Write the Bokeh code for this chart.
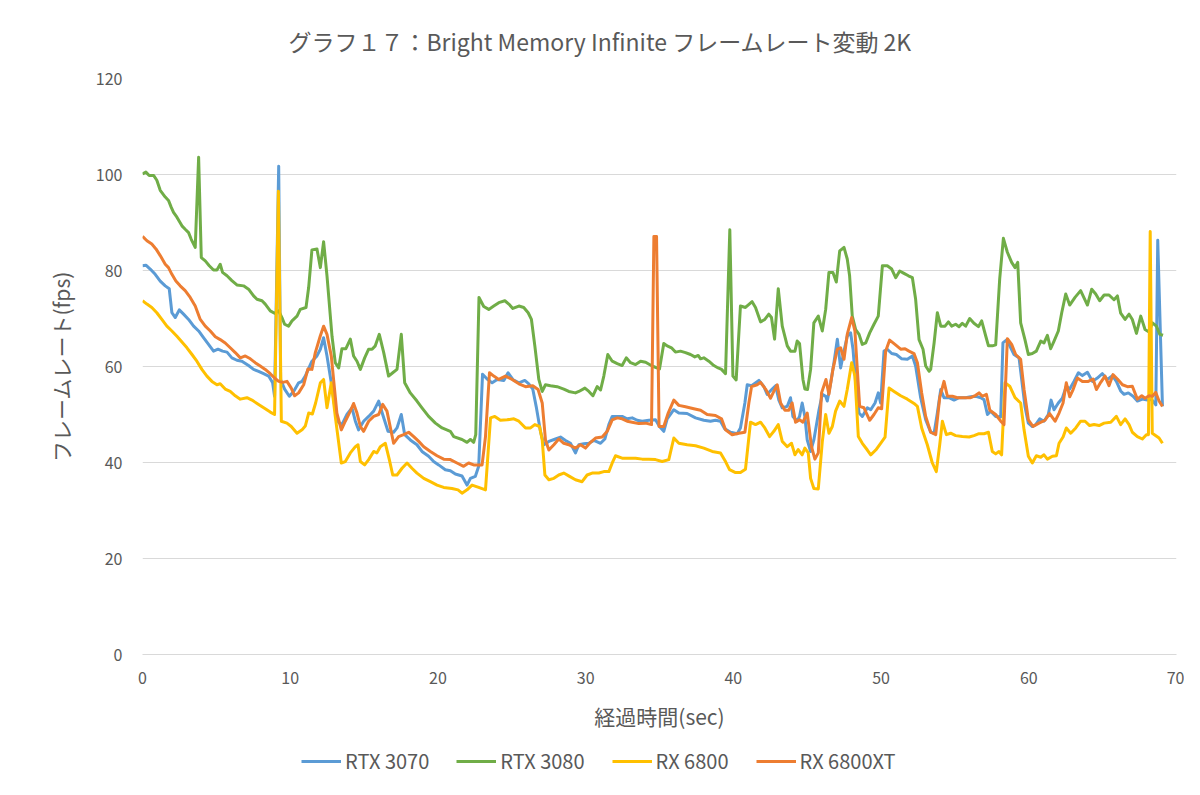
from bokeh.plotting import figure
from bokeh.layouts import column
from bokeh.models import Range1d, FixedTicker, Legend, LegendItem
from bokeh.embed import file_html
from bokeh.resources import INLINE

title_text = "グラフ１７：Bright Memory Infinite フレームレート変動 2K"
x_label = "経過時間(sec)"
y_label = "フレームレート(fps)"
x_ticks = [0, 10, 20, 30, 40, 50, 60, 70]
y_ticks = [0, 20, 40, 60, 80, 100, 120]

series_names = ["RTX 3070", "RTX 3080", "RX 6800", "RX 6800XT"]
series_colors = ["#5B9BD5", "#70AD47", "#FFC000", "#ED7D31"]

rtx3070_t = [0.0, 0.23, 0.52, 0.86, 1.2, 1.54, 1.81, 1.99, 2.22, 2.49, 2.78, 3.12, 3.46, 3.8, 4.13, 4.47, 4.81, 5.11, 5.42, 5.72, 6.05, 6.39, 6.73, 7.18, 7.52, 7.86, 8.2, 8.54, 8.81, 8.94, 9.22, 9.35, 9.62, 9.94, 10.23, 10.57, 10.8, 11.02, 11.47, 11.81, 12.04, 12.26, 12.49, 12.78, 13.16, 13.5, 13.84, 14.18, 14.41, 14.63, 14.97, 15.31, 15.65, 15.99, 16.26, 16.62, 17.0, 17.23, 17.52, 17.75, 18.13, 18.58, 18.92, 19.37, 19.71, 20.05, 20.5, 20.84, 21.18, 21.63, 21.97, 22.2, 22.53, 22.76, 23.02, 23.33, 23.67, 24.01, 24.46, 24.75, 25.07, 25.48, 25.88, 26.15, 26.42, 26.65, 26.94, 27.17, 27.51, 27.96, 28.3, 28.64, 28.97, 29.31, 29.54, 29.88, 30.22, 30.56, 31.01, 31.3, 31.57, 31.8, 32.14, 32.47, 32.81, 33.15, 33.49, 33.83, 34.28, 34.73, 35.0, 35.29, 35.52, 35.97, 36.31, 36.87, 37.44, 38.0, 38.45, 38.79, 39.13, 39.42, 39.81, 40.26, 40.48, 40.78, 40.94, 41.23, 41.73, 42.07, 42.29, 42.63, 42.86, 43.08, 43.31, 43.65, 43.87, 44.03, 44.32, 44.48, 44.66, 44.84, 45.0, 45.23, 45.45, 45.8, 46.02, 46.25, 46.36, 46.59, 46.81, 47.04, 47.26, 47.49, 47.71, 47.94, 48.1, 48.28, 48.51, 48.73, 49.07, 49.3, 49.59, 49.81, 49.97, 50.2, 50.42, 50.72, 51.03, 51.4, 51.78, 52.12, 52.34, 52.68, 53.02, 53.36, 53.59, 53.81, 54.04, 54.26, 54.6, 54.94, 55.28, 55.73, 56.07, 56.41, 56.75, 56.97, 57.2, 57.42, 57.76, 58.1, 58.25, 58.48, 58.71, 59.0, 59.34, 59.52, 59.74, 59.97, 60.24, 60.47, 60.74, 61.03, 61.32, 61.51, 61.71, 62.0, 62.27, 62.54, 62.77, 63.06, 63.36, 63.63, 63.97, 64.31, 64.64, 64.98, 65.32, 65.66, 65.93, 66.22, 66.45, 66.74, 67.06, 67.35, 67.69, 68.03, 68.32, 68.6, 68.73, 69.05]
rtx3070_fps = [81.0, 81.1, 80.3, 79.2, 77.8, 76.8, 76.2, 71.2, 70.2, 71.8, 70.9, 69.8, 68.4, 67.4, 66.0, 64.6, 63.2, 63.6, 63.2, 63.0, 61.8, 61.3, 61.1, 60.2, 59.4, 59.0, 58.5, 58.0, 56.6, 53.8, 101.7, 57.3, 55.3, 53.8, 54.8, 56.6, 56.9, 58.0, 61.1, 62.2, 63.6, 66.0, 62.2, 56.6, 48.6, 47.9, 50.0, 51.4, 48.6, 46.8, 48.6, 49.6, 50.7, 52.8, 50.0, 46.5, 46.3, 47.2, 50.0, 45.8, 44.7, 43.7, 42.3, 41.3, 40.2, 39.5, 38.5, 38.3, 37.6, 37.2, 35.3, 36.7, 37.1, 39.2, 58.4, 57.4, 56.6, 57.3, 57.1, 58.7, 57.3, 56.6, 57.1, 56.4, 55.3, 51.7, 46.5, 43.7, 44.4, 44.9, 45.3, 44.6, 44.0, 42.0, 43.7, 43.9, 44.0, 44.6, 44.0, 44.9, 47.9, 49.6, 49.6, 49.6, 49.1, 49.3, 48.8, 48.6, 48.8, 48.9, 47.5, 46.5, 49.1, 51.0, 50.3, 50.2, 49.3, 48.8, 48.6, 48.8, 48.6, 47.0, 46.3, 46.0, 47.2, 52.4, 56.2, 56.0, 57.1, 55.8, 54.2, 55.3, 56.0, 53.0, 51.4, 51.7, 53.5, 49.6, 48.6, 49.6, 52.4, 49.6, 44.7, 42.3, 44.7, 51.0, 54.2, 53.8, 52.8, 56.6, 60.8, 65.7, 59.7, 63.2, 66.3, 67.0, 63.6, 56.6, 50.3, 49.6, 51.4, 51.0, 52.4, 54.5, 52.4, 63.2, 63.6, 62.7, 62.5, 61.6, 61.5, 62.2, 60.1, 53.5, 48.9, 46.3, 46.1, 50.3, 55.2, 53.5, 53.5, 53.0, 53.5, 53.5, 53.7, 53.8, 53.5, 53.1, 50.0, 50.7, 49.6, 49.5, 64.9, 65.5, 64.3, 62.5, 61.8, 57.3, 51.7, 48.2, 47.5, 47.9, 49.1, 48.6, 50.0, 53.0, 51.0, 52.4, 53.4, 55.9, 55.3, 56.9, 58.7, 58.1, 58.8, 56.9, 57.6, 58.5, 57.3, 58.1, 56.9, 54.9, 54.2, 54.5, 53.8, 52.8, 53.2, 53.0, 53.1, 52.0, 86.3, 51.7]

rtx3080_t = [0.0, 0.23, 0.45, 0.75, 0.97, 1.2, 1.54, 1.76, 1.94, 2.1, 2.33, 2.67, 2.89, 3.12, 3.3, 3.57, 3.8, 3.98, 4.25, 4.52, 4.81, 5.04, 5.26, 5.42, 5.72, 6.05, 6.39, 6.84, 7.18, 7.52, 7.75, 8.09, 8.31, 8.65, 8.94, 9.22, 9.44, 9.62, 9.89, 10.12, 10.46, 10.68, 11.07, 11.25, 11.47, 11.81, 12.04, 12.26, 12.49, 12.83, 13.05, 13.28, 13.5, 13.77, 14.07, 14.29, 14.52, 14.75, 15.04, 15.31, 15.54, 15.76, 16.03, 16.33, 16.66, 16.94, 17.23, 17.52, 17.75, 18.13, 18.58, 18.92, 19.37, 19.83, 20.28, 20.84, 21.07, 21.63, 21.97, 22.2, 22.42, 22.56, 22.78, 23.1, 23.44, 23.78, 24.12, 24.53, 24.8, 25.07, 25.48, 25.81, 26.11, 26.33, 26.56, 26.83, 27.06, 27.28, 27.62, 28.07, 28.52, 28.86, 29.31, 29.54, 29.95, 30.22, 30.49, 30.78, 31.01, 31.23, 31.5, 31.8, 32.14, 32.47, 32.75, 33.04, 33.38, 33.72, 34.06, 34.5, 35.0, 35.29, 35.52, 35.81, 36.08, 36.42, 36.76, 37.1, 37.39, 37.62, 37.78, 38.0, 38.34, 38.68, 38.97, 39.2, 39.47, 39.76, 39.97, 40.19, 40.48, 40.82, 41.27, 41.5, 41.84, 42.13, 42.4, 42.58, 42.79, 43.04, 43.31, 43.65, 43.87, 44.17, 44.32, 44.48, 44.71, 44.84, 45.02, 45.23, 45.45, 45.75, 46.02, 46.25, 46.47, 46.74, 46.97, 47.2, 47.49, 47.71, 47.87, 48.05, 48.28, 48.51, 48.73, 48.96, 49.23, 49.52, 49.81, 50.09, 50.42, 50.72, 50.99, 51.26, 51.55, 51.85, 52.12, 52.34, 52.57, 52.84, 53.02, 53.25, 53.36, 53.59, 53.81, 54.04, 54.33, 54.56, 54.78, 55.05, 55.28, 55.5, 55.73, 56.0, 56.29, 56.59, 56.81, 57.09, 57.27, 57.54, 57.76, 58.03, 58.28, 58.55, 58.84, 59.07, 59.25, 59.45, 59.74, 59.97, 60.24, 60.51, 60.81, 61.03, 61.26, 61.48, 61.71, 62.0, 62.23, 62.5, 62.77, 63.13, 63.51, 63.97, 64.26, 64.53, 64.8, 65.1, 65.43, 65.77, 66.0, 66.22, 66.52, 66.79, 67.01, 67.29, 67.58, 67.87, 68.14, 68.37, 68.64, 68.87, 69.09]
rtx3080_fps = [100.1, 100.5, 99.8, 99.8, 98.8, 96.7, 95.3, 94.6, 93.2, 92.1, 91.1, 89.3, 88.6, 87.9, 86.5, 84.8, 103.6, 82.7, 82.0, 81.0, 80.1, 80.1, 81.3, 79.6, 78.9, 77.9, 77.0, 76.8, 76.1, 74.7, 74.0, 73.7, 73.0, 71.6, 71.1, 71.6, 70.2, 68.8, 68.4, 69.5, 70.5, 71.9, 72.3, 76.5, 84.3, 84.5, 80.6, 86.0, 78.9, 66.3, 60.8, 59.7, 63.7, 63.7, 65.7, 62.2, 61.1, 59.4, 61.8, 63.6, 63.6, 64.3, 66.7, 62.9, 58.0, 58.7, 59.4, 66.7, 56.6, 54.5, 52.8, 51.4, 49.6, 48.2, 47.2, 46.5, 45.4, 44.8, 44.2, 44.8, 44.2, 45.8, 74.4, 72.5, 71.9, 72.6, 73.3, 73.7, 73.0, 72.1, 72.6, 72.3, 71.2, 69.8, 64.3, 57.3, 54.8, 56.2, 56.0, 55.8, 55.3, 54.8, 54.5, 54.8, 55.5, 54.8, 53.9, 55.8, 55.1, 58.0, 62.5, 61.1, 60.6, 60.2, 61.8, 60.8, 60.4, 61.1, 60.9, 60.1, 59.5, 64.8, 64.3, 63.9, 63.0, 63.2, 62.9, 62.5, 62.0, 62.3, 61.6, 61.8, 61.1, 60.2, 59.7, 59.4, 58.5, 88.5, 58.0, 57.2, 72.6, 72.3, 73.5, 72.3, 69.3, 69.8, 70.9, 70.2, 65.7, 76.2, 68.4, 64.3, 63.2, 63.2, 65.3, 64.8, 57.3, 55.3, 55.2, 59.4, 69.1, 70.5, 67.4, 71.9, 79.6, 79.6, 77.6, 84.1, 84.8, 82.4, 78.9, 70.5, 67.7, 66.7, 64.6, 64.9, 67.0, 68.8, 70.5, 81.0, 81.0, 80.3, 78.5, 79.9, 79.4, 78.9, 78.5, 74.0, 65.6, 63.6, 60.1, 59.0, 59.4, 64.9, 71.2, 68.4, 68.4, 69.3, 68.4, 68.8, 68.3, 69.0, 68.4, 70.0, 69.0, 68.3, 69.5, 66.3, 64.3, 64.3, 64.5, 78.2, 86.7, 83.8, 81.7, 80.6, 81.7, 69.1, 65.6, 62.5, 62.7, 63.2, 65.3, 64.9, 66.5, 63.7, 65.3, 67.4, 71.2, 75.1, 72.8, 74.4, 75.8, 72.8, 76.1, 75.1, 73.7, 74.9, 74.9, 73.9, 74.7, 71.1, 69.8, 70.9, 69.8, 66.9, 70.5, 67.7, 67.2, 69.1, 68.4, 66.7, 66.5]

rx6800_t = [0.0, 0.3, 0.63, 0.97, 1.31, 1.65, 1.99, 2.33, 2.67, 3.01, 3.35, 3.68, 4.02, 4.36, 4.7, 5.04, 5.26, 5.6, 5.94, 6.28, 6.62, 7.07, 7.41, 7.86, 8.31, 8.65, 8.94, 9.2, 9.4, 9.78, 10.07, 10.46, 10.8, 11.02, 11.25, 11.5, 11.72, 12.04, 12.26, 12.49, 12.78, 13.05, 13.46, 13.73, 14.07, 14.41, 14.59, 14.75, 15.04, 15.31, 15.65, 15.87, 16.1, 16.44, 16.71, 16.94, 17.23, 17.57, 17.91, 18.24, 18.58, 19.04, 19.49, 19.94, 20.39, 20.95, 21.36, 21.63, 21.97, 22.31, 22.76, 23.22, 23.56, 23.85, 24.23, 24.68, 25.14, 25.48, 25.93, 26.27, 26.56, 26.88, 27.06, 27.24, 27.51, 27.85, 28.18, 28.52, 28.91, 29.31, 29.76, 30.1, 30.44, 30.89, 31.23, 31.57, 31.8, 32.02, 32.47, 32.93, 33.38, 33.83, 34.28, 34.73, 35.18, 35.63, 35.97, 36.31, 36.87, 37.44, 38.0, 38.57, 39.13, 39.47, 39.74, 40.15, 40.48, 40.82, 41.16, 41.5, 41.84, 42.13, 42.45, 42.74, 43.04, 43.31, 43.65, 43.94, 44.17, 44.39, 44.66, 44.84, 45.07, 45.23, 45.45, 45.75, 46.02, 46.25, 46.47, 46.7, 46.92, 47.2, 47.49, 47.71, 48.01, 48.23, 48.46, 48.73, 49.07, 49.3, 49.64, 49.97, 50.27, 50.54, 50.88, 51.33, 51.78, 52.23, 52.46, 52.75, 53.13, 53.47, 53.74, 53.97, 54.15, 54.42, 54.71, 55.05, 55.5, 55.96, 56.29, 56.63, 56.97, 57.27, 57.53, 57.76, 57.98, 58.16, 58.39, 58.71, 59.07, 59.45, 59.68, 59.97, 60.24, 60.51, 60.81, 61.03, 61.26, 61.6, 61.87, 62.05, 62.32, 62.54, 62.84, 63.18, 63.51, 63.81, 64.12, 64.42, 64.76, 65.1, 65.55, 65.93, 66.22, 66.52, 66.79, 67.01, 67.35, 67.69, 67.96, 68.1, 68.22, 68.36, 68.82, 69.05]
rx6800_fps = [73.7, 73.0, 72.3, 71.2, 69.8, 68.4, 67.4, 66.3, 65.1, 63.9, 62.5, 61.1, 59.4, 58.0, 56.9, 56.2, 56.4, 55.3, 54.8, 53.9, 53.2, 53.5, 53.0, 52.1, 51.2, 50.5, 50.0, 96.5, 48.6, 48.2, 47.5, 46.1, 46.8, 47.6, 50.3, 50.1, 52.4, 56.6, 57.3, 51.4, 56.6, 49.6, 39.9, 40.2, 42.0, 43.3, 43.7, 40.2, 39.5, 40.6, 42.3, 42.0, 43.3, 44.0, 40.6, 37.4, 37.4, 38.8, 39.9, 38.8, 37.8, 36.7, 36.0, 35.3, 34.8, 34.6, 34.3, 33.6, 34.3, 35.3, 34.8, 34.3, 49.3, 49.6, 48.8, 48.9, 49.1, 48.6, 47.2, 47.2, 47.9, 47.5, 44.7, 37.4, 36.4, 36.7, 37.4, 37.8, 37.1, 36.4, 36.0, 37.4, 37.8, 37.8, 38.1, 38.1, 39.9, 41.4, 40.9, 40.9, 40.9, 40.7, 40.7, 40.6, 40.2, 40.6, 45.1, 44.0, 43.7, 43.5, 43.0, 42.3, 42.0, 40.2, 38.5, 37.9, 37.9, 38.6, 48.4, 47.9, 48.4, 47.2, 45.4, 46.5, 47.9, 44.4, 43.3, 44.0, 41.6, 42.7, 41.6, 43.0, 42.0, 36.7, 34.6, 34.5, 44.3, 50.0, 46.1, 47.5, 50.7, 52.8, 51.7, 55.2, 60.8, 58.0, 45.4, 44.0, 42.6, 41.6, 42.6, 44.0, 45.3, 55.5, 54.8, 53.9, 53.2, 52.3, 51.7, 47.2, 43.7, 39.9, 38.1, 43.7, 48.6, 45.8, 46.1, 45.6, 45.4, 45.3, 45.6, 46.0, 46.0, 46.3, 42.3, 41.8, 42.3, 41.6, 56.6, 55.9, 53.5, 52.4, 46.8, 41.3, 39.9, 41.4, 41.1, 41.6, 40.7, 41.3, 41.4, 44.0, 45.3, 47.2, 46.1, 47.2, 48.6, 48.6, 47.7, 47.9, 47.7, 48.2, 48.4, 49.6, 47.9, 49.1, 47.9, 46.3, 45.4, 44.9, 45.8, 45.8, 88.1, 46.1, 45.1, 44.0]

rx6800xt_t = [0.0, 0.3, 0.63, 0.91, 1.2, 1.54, 1.76, 1.99, 2.26, 2.55, 2.89, 3.23, 3.57, 3.91, 4.25, 4.59, 4.93, 5.26, 5.6, 5.94, 6.28, 6.62, 6.96, 7.3, 7.63, 7.97, 8.31, 8.65, 8.94, 9.22, 9.49, 9.78, 10.07, 10.3, 10.57, 10.91, 11.2, 11.47, 11.7, 12.04, 12.26, 12.49, 12.78, 13.16, 13.46, 13.73, 14.07, 14.29, 14.52, 14.75, 14.97, 15.31, 15.65, 15.99, 16.26, 16.55, 17.0, 17.34, 17.68, 18.02, 18.36, 18.7, 19.04, 19.49, 19.94, 20.39, 20.84, 21.29, 21.74, 22.08, 22.42, 22.99, 23.22, 23.49, 23.78, 24.12, 24.57, 25.02, 25.48, 25.93, 26.42, 26.78, 27.06, 27.28, 27.51, 27.85, 28.18, 28.52, 28.86, 29.31, 29.65, 29.99, 30.33, 30.67, 31.12, 31.46, 31.8, 32.14, 32.47, 32.81, 33.15, 33.6, 34.06, 34.46, 34.62, 34.8, 34.97, 35.29, 35.59, 35.97, 36.31, 36.76, 37.32, 37.78, 38.23, 38.79, 39.2, 39.47, 39.92, 40.37, 40.78, 41.05, 41.23, 41.61, 41.84, 42.18, 42.52, 42.74, 42.97, 43.2, 43.49, 43.76, 43.98, 44.21, 44.48, 44.71, 45.0, 45.29, 45.52, 45.75, 45.97, 46.27, 46.47, 46.74, 47.04, 47.26, 47.49, 47.71, 48.01, 48.23, 48.39, 48.55, 48.84, 49.23, 49.52, 49.81, 50.04, 50.31, 50.58, 50.94, 51.33, 51.62, 51.89, 52.23, 52.46, 52.75, 53.02, 53.36, 53.7, 53.97, 54.26, 54.49, 54.83, 55.17, 55.62, 56.07, 56.41, 56.63, 56.86, 57.13, 57.36, 57.76, 58.1, 58.32, 58.55, 58.84, 59.11, 59.45, 59.68, 59.97, 60.29, 60.69, 61.1, 61.41, 61.78, 62.05, 62.32, 62.54, 62.77, 63.0, 63.29, 63.63, 64.03, 64.35, 64.58, 64.87, 65.16, 65.43, 65.7, 66.0, 66.34, 66.68, 67.01, 67.35, 67.65, 67.87, 68.14, 68.37, 68.59, 68.82, 69.05]
rx6800xt_fps = [87.1, 86.2, 85.5, 84.5, 83.1, 81.3, 80.6, 79.2, 77.8, 76.8, 75.8, 74.4, 72.6, 69.8, 68.4, 67.4, 66.2, 65.6, 64.9, 63.9, 62.9, 61.8, 62.2, 61.6, 60.8, 60.1, 59.4, 58.5, 57.6, 56.9, 56.7, 56.9, 55.5, 53.9, 54.5, 56.2, 59.5, 59.4, 62.9, 66.4, 68.4, 66.7, 62.2, 50.3, 46.8, 48.6, 50.7, 52.3, 50.3, 47.5, 46.5, 48.6, 49.6, 50.0, 52.1, 50.7, 44.0, 45.4, 45.8, 46.3, 45.4, 44.4, 43.3, 42.3, 41.4, 40.7, 40.6, 39.9, 39.2, 39.9, 39.5, 39.5, 45.4, 58.7, 58.0, 57.3, 58.0, 57.3, 56.4, 55.8, 56.0, 55.2, 52.4, 44.7, 42.6, 43.7, 44.9, 44.0, 43.7, 43.0, 43.7, 43.0, 44.2, 45.1, 45.3, 46.5, 48.9, 49.3, 49.1, 48.6, 48.4, 48.1, 48.2, 47.9, 87.1, 87.1, 47.5, 47.5, 50.3, 53.0, 51.9, 51.6, 51.2, 50.9, 50.0, 49.8, 49.1, 46.8, 45.8, 46.1, 46.3, 52.4, 55.8, 56.2, 56.7, 55.3, 53.4, 54.8, 56.2, 52.4, 50.9, 50.9, 52.4, 48.4, 48.9, 48.4, 50.3, 43.3, 40.7, 42.0, 54.5, 57.3, 54.2, 59.4, 63.6, 63.9, 61.5, 66.7, 70.2, 67.4, 59.4, 51.7, 51.4, 48.8, 50.0, 51.4, 51.2, 63.2, 65.5, 64.6, 63.6, 63.7, 63.2, 62.7, 60.8, 54.5, 49.6, 46.3, 45.8, 53.5, 56.9, 53.8, 53.8, 53.5, 53.5, 53.5, 54.0, 54.5, 53.8, 54.2, 50.9, 50.0, 48.6, 47.9, 65.8, 64.6, 62.5, 61.5, 55.2, 48.9, 47.5, 48.2, 48.8, 50.2, 48.6, 50.3, 52.4, 56.6, 53.7, 55.2, 57.6, 56.9, 56.9, 57.4, 55.2, 56.7, 58.0, 56.0, 58.3, 57.4, 56.2, 55.8, 55.9, 53.2, 53.9, 53.4, 53.9, 53.8, 54.6, 52.8, 51.7]

series_t = [rtx3070_t, rtx3080_t, rx6800_t, rx6800xt_t]
series_fps = [rtx3070_fps, rtx3080_fps, rx6800_fps, rx6800xt_fps]

TEXT = "#595959"
JP = "Noto Sans CJK JP"

p = figure(width=1184, height=735, output_backend="svg", toolbar_location=None,
           x_range=Range1d(0, 70), y_range=Range1d(0, 120),
           min_border_left=142, min_border_right=8, min_border_top=78, min_border_bottom=81)

p.title.text = title_text
p.title.text_font = JP
p.title.text_font_size = "23px"
p.title.text_font_style = "normal"
p.title.text_color = TEXT
p.title.align = "left"
p.title.offset = 146
p.title.standoff = 41

p.outline_line_color = None
p.background_fill_color = "white"
p.border_fill_color = "white"

p.xgrid.grid_line_color = None
p.ygrid.grid_line_color = "#d9d9d9"
p.ygrid.grid_line_width = 1

p.xaxis.ticker = FixedTicker(ticks=x_ticks)
p.yaxis.ticker = FixedTicker(ticks=y_ticks)
for ax in (p.xaxis[0], p.yaxis[0]):
    ax.major_tick_line_color = None
    ax.minor_tick_line_color = None
    ax.major_label_text_font = JP
    ax.major_label_text_font_size = "16px"
    ax.major_label_text_color = TEXT
    ax.axis_label_text_font = JP
    ax.axis_label_text_font_size = "21px"
    ax.axis_label_text_font_style = "normal"
    ax.axis_label_text_color = TEXT
p.xaxis.axis_line_color = "#d9d9d9"
p.yaxis.axis_line_color = None
p.xaxis.axis_label = x_label
p.yaxis.axis_label = y_label
p.xaxis.major_label_standoff = 11
p.yaxis.major_label_standoff = 14
p.xaxis.axis_label_standoff = 14
p.yaxis.axis_label_standoff = 17

for color, t, f in zip(series_colors, series_t, series_fps):
    p.line(t, f, line_color=color, line_width=3, line_join="round")

# legend strip below the chart (its lines fall outside its 0..1 view; only the legend shows)
pl = figure(width=1184, height=44, output_backend="svg", toolbar_location=None,
            x_axis_type=None, y_axis_type=None, x_range=Range1d(-1, 0), y_range=Range1d(-1, 0),
            min_border=0, outline_line_color=None)
pl.border_fill_color = "white"
items = []
for name, color, t, f in zip(series_names, series_colors, series_t, series_fps):
    r = pl.line(t, f, line_color=color, line_width=3)
    items.append(LegendItem(label=name, renderers=[r]))
legend = Legend(items=items, orientation="horizontal", location=(159, 4),
                label_text_font=JP, label_text_font_size="20px", label_text_color=TEXT,
                glyph_width=40, label_standoff=4, spacing=27, padding=4, margin=0,
                border_line_color=None, background_fill_alpha=0)
pl.add_layout(legend, "center")

layout = column(p, pl, spacing=0)
open("out.html", "w").write(file_html(layout, INLINE))
